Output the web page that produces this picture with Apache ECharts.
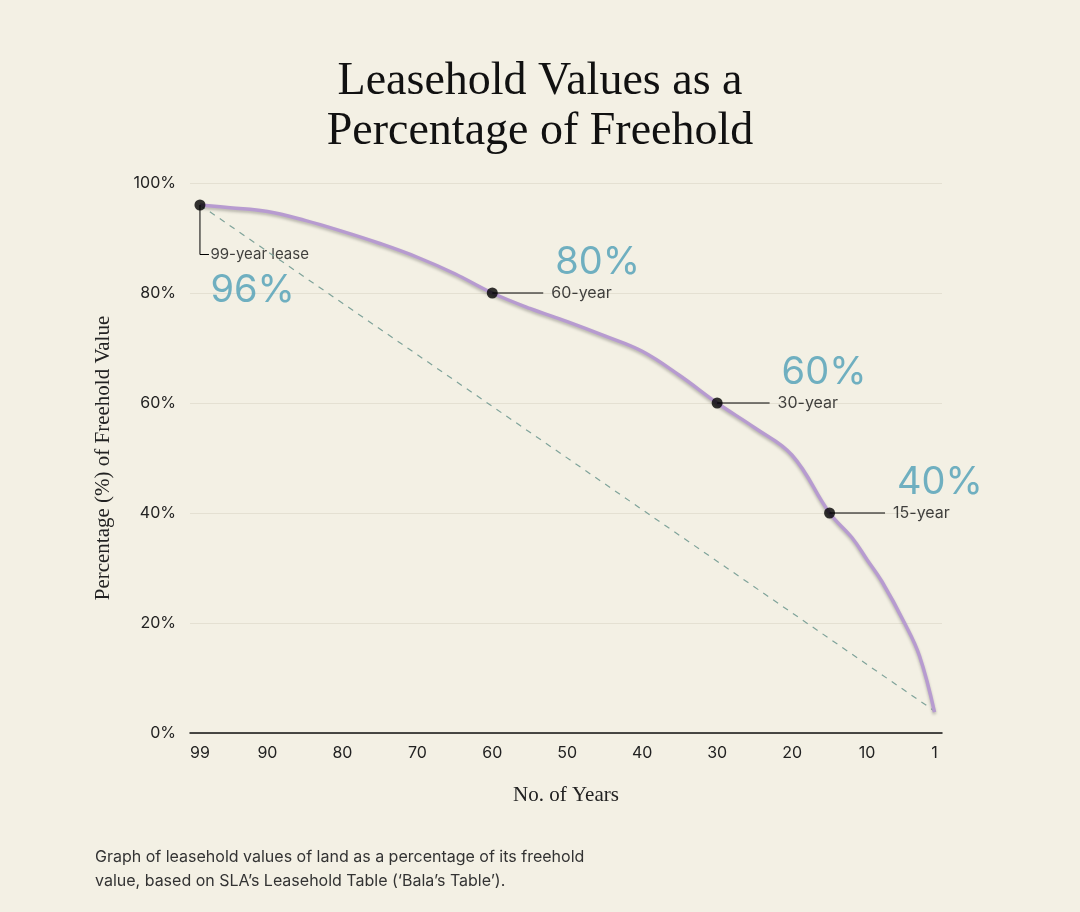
<!DOCTYPE html>
<html><head><meta charset="utf-8">
<script src="https://cdn.jsdelivr.net/npm/echarts@6/dist/echarts.min.js"></script>
<style>html,body{margin:0;background:#f3f0e4}#c{width:1080px;height:912px}</style>
</head><body><div id="c"></div>
<script>
var years = [99,95,90,85,80,75,70,65,60,55,50,45,40,35,30,25,20,15,12,10,8,5,3,1];
var values = [96,95.5,94.8,93.2,91.2,89,86.5,83.5,80,77.2,74.8,72.2,69.4,65,60,55.5,50.5,40,35.5,31.5,27.5,20,14,3.8];
var diagonal = [[99,96],[1,4]];
var xTicks = [99,90,80,70,60,50,40,30,20,10,1];
var yTicks = [0,20,40,60,80,100];
// annotations: year, value, line end year, small label, big label
var notes = [
  {year:60, value:80, end:53.2, text:'60-year', big:'80%'},
  {year:30, value:60, end:23, text:'30-year', big:'60%'},
  {year:15, value:40, end:7.6, text:'15-year', big:'40%'}
];

var chart = echarts.init(document.getElementById('c'));
var teal = '#4e9fb6';
var series = [
  {type:'line', data:diagonal, symbol:'none', silent:true,
   lineStyle:{color:'#7fa39a', width:1.2, type:[6,6]}},
  {type:'line', data:years.map(function(y,i){return [y,values[i]];}), smooth:0.4, symbol:'none',
   lineStyle:{color:'#b79bd0', width:3.5, shadowColor:'rgba(0,0,0,0.25)', shadowBlur:3, shadowOffsetY:2}},
  // 99-year leader
  {type:'line', data:[[99,96],[99,87],[97.8,87]], symbol:'none', lineStyle:{color:'#000', width:1}},
  {type:'scatter', data:[[97.6,87]], symbolSize:0,
   label:{show:true, position:'right', distance:0, formatter:'99-year lease', color:'#111', fontSize:15, fontFamily:'Inter'}},
  {type:'scatter', data:[[97.6,80.5]], symbolSize:0,
   label:{show:true, position:'right', distance:0, formatter:'96%', color:teal, fontSize:38, fontFamily:'Inter'}}
];
notes.forEach(function(n){
  series.push({type:'line', data:[[n.year,n.value],[n.end,n.value]], symbol:'none', lineStyle:{color:'#000', width:1}});
  series.push({type:'scatter', data:[[n.end,n.value]], symbolSize:0,
    label:{show:true, position:'right', distance:8, formatter:n.text, color:'#111', fontSize:16, fontFamily:'Inter'}});
  series.push({type:'scatter', data:[[n.end,n.value+5.6]], symbolSize:0,
    label:{show:true, position:'right', distance:12, formatter:n.big, color:teal, fontSize:38, fontFamily:'Inter'}});
});
series.push({type:'scatter', data:[[99,96]].concat(notes.map(function(n){return [n.year,n.value];})),
  symbolSize:11, itemStyle:{color:'#000'}, z:10});

chart.setOption({
  backgroundColor:'#f3f0e4',
  animation:false,
  title:{text:'Leasehold Values as a\nPercentage of Freehold', left:'center', top:52,
    textStyle:{fontFamily:'Liberation Serif', fontWeight:'normal', fontSize:46, lineHeight:50, color:'#111'}},
  graphic:[
    {type:'text', left:95, top:845, style:{text:"Graph of leasehold values of land as a percentage of its freehold\nvalue, based on SLA\u2019s Leasehold Table (\u2018Bala\u2019s Table\u2019).",
      font:'16px Inter', fill:'#333', lineHeight:24}}
  ],
  grid:{left:190, right:138, top:183, bottom:179},
  xAxis:{type:'value', inverse:true, min:0, max:100.33, name:'No. of Years', nameLocation:'middle', nameGap:52,
    nameTextStyle:{fontFamily:'Liberation Serif', fontSize:21, color:'#222'},
    axisLine:{lineStyle:{color:'#111', width:1.5}}, axisTick:{show:false}, splitLine:{show:false},
    axisLabel:{customValues:xTicks, color:'#222', fontSize:16, fontFamily:'Inter', margin:12}},
  yAxis:{type:'value', min:0, max:100, name:'Percentage (%) of Freehold Value', nameLocation:'middle', nameGap:76,
    nameTextStyle:{fontFamily:'Liberation Serif', fontSize:21, color:'#222'},
    axisLine:{show:false}, axisTick:{show:false},
    splitLine:{lineStyle:{color:'#e4e0d2', width:1}},
    axisLabel:{customValues:yTicks, formatter:'{value}%', color:'#222', fontSize:16, fontFamily:'Inter', margin:14}},
  series:series
});
</script></body></html>
